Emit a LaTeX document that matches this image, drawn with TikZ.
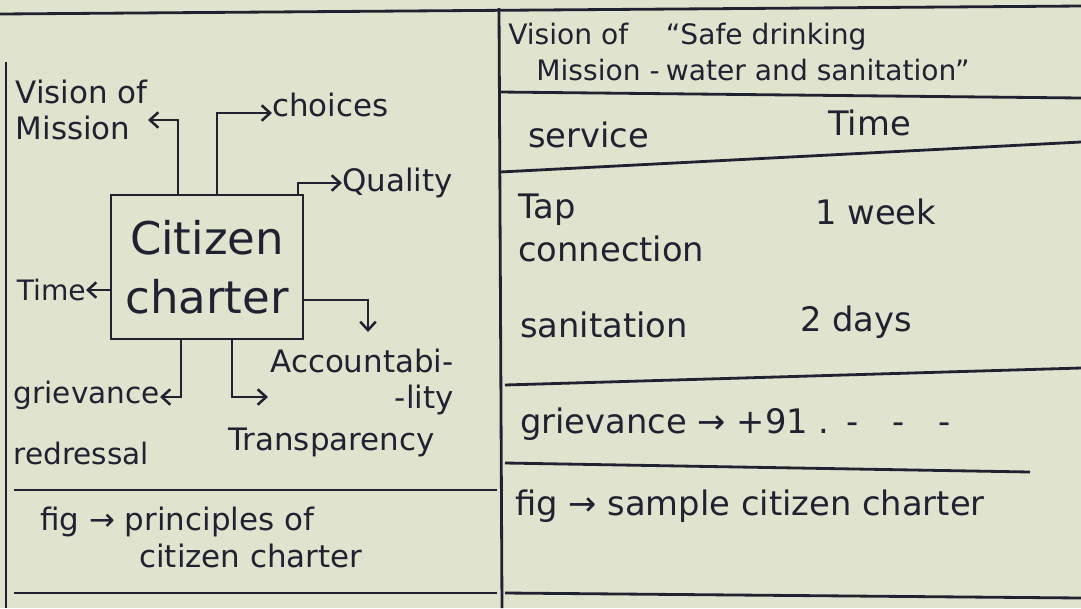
\documentclass[tikz,border=0pt]{standalone}
\usepackage{fontspec}
\setmainfont{DejaVu Sans}
\usetikzlibrary{positioning, arrows.meta}

\tikzset{
    lbl/.style={text=ink, inner sep=0pt, align=left, font=\fontsize{22}{26}\selectfont},
    lblr/.style={lbl, font=\fontsize{24}{28}\selectfont},
    hdr/.style={lbl, font=\fontsize{20}{25}\selectfont},
    rule/.style={draw=ink, line width=2pt},
    arr/.style={draw=ink, line width=1.8pt, -{Straight Barb[length=6pt, width=11pt]}},
    chartbox/.style={draw=ink, line width=2pt, text=ink, align=center,
        minimum width=4.8cm, minimum height=3.6cm, font=\fontsize{32}{42}\selectfont}
}

\begin{document}
\begin{tikzpicture}[x=0.025cm, y=-0.025cm]
    % Цвета
    \definecolor{paper}{RGB}{224,228,206}
    \definecolor{ink}{RGB}{32,34,50}

    % Фон
    \fill[paper] (0,0) rectangle (1081,608);
    \useasboundingbox (0,0) rectangle (1081,608);

    % Рамки
    \draw[rule] (0,14) -- (1081,6);
    \draw[rule] (6,62) -- (6,608);
    \draw[rule] (499,8) -- (502,608);
    \draw[rule] (14,490) -- (497,490);
    \draw[rule] (14,593) -- (497,593);

    % Схема
    \node[chartbox] (cc) at (207,267) {Citizen\\charter};

    \node[lbl, anchor=east] (vis) at (148,110) {Vision of\\Mission};
    \coordinate (visk) at (178,120);
    \draw[arr] (visk |- cc.north) -- (visk) -- (vis.east |- visk);

    \node[lbl, anchor=west] (cho) at (272,105) {choices};
    \coordinate (chok) at (217,113);
    \draw[arr] (chok |- cc.north) -- (chok) -- (cho.west |- chok);

    \node[lbl, anchor=west] (qua) at (342,183) {Quality};
    \coordinate (quak) at (298,183);
    \draw[arr] (quak |- cc.north) -- (quak) -- (qua.west |- quak);

    \node[lbl, anchor=east, font=\fontsize{20}{24}\selectfont] (tim) at (86,290) {Time};
    \draw[arr] (cc.west |- tim.east) -- (tim.east);

    \node[lbl, align=right] (acc) at (362,382) {Accountabi-\\-lity};
    \coordinate (acck) at (368,300);
    \coordinate (acctip) at (368,332);
    \draw[arr] (cc.east |- acck) -- (acck) -- (acctip);

    \node[lbl, anchor=north east, font=\fontsize{21}{25}\selectfont] (grv) at (160,381) {grievance\\[18pt]redressal};
    \coordinate (grvk) at (181,397);
    \draw[arr] (grvk |- cc.south) -- (grvk) -- (grv.east |- grvk);

    \node[lbl, anchor=west] (tra) at (228,442) {Transparency};
    \coordinate (trk) at (232,397);
    \coordinate (trtip) at (268,397);
    \draw[arr] (trk |- cc.south) -- (trk) -- (trtip);

    \node[lbl, anchor=north west] (cap1) at (40,507) {fig → principles of\\\hspace{3.2em}citizen charter};

    % Таблица
    \draw[rule] (500,92) -- (1081,98);
    \draw[rule] (500,172) -- (1081,142);
    \draw[rule] (505,385) -- (1081,368);
    \draw[rule] (505,463) -- (1030,472);
    \draw[rule] (505,593) -- (1081,598);

    \node[hdr, anchor=west] (vmhead) at (508,52) {Vision of\\\quad Mission -};
    \node[hdr, right=4pt of vmhead] (sdw) {“Safe drinking\\water and sanitation”};

    \node[lblr, anchor=west] (svc) at (528,135) {service};
    \node[lblr, anchor=west] (tmh) at (828,123) {Time};

    \node[lblr, anchor=west, font=\fontsize{24}{30}\selectfont] (tap) at (518,228) {Tap\\connection};
    \node[lblr, anchor=west] (wk) at (815,212) {1 week};

    \node[lblr, anchor=west] (san) at (520,325) {sanitation};
    \node[lblr, anchor=west] (dys) at (800,322) {2 days};

    \node[lblr, anchor=west] (grl) at (520,424) {grievance → +91 .\enspace -\quad -\quad -};

    \node[lblr, anchor=west] (cap2) at (515,506) {fig → sample citizen charter};
\end{tikzpicture}
\end{document}
